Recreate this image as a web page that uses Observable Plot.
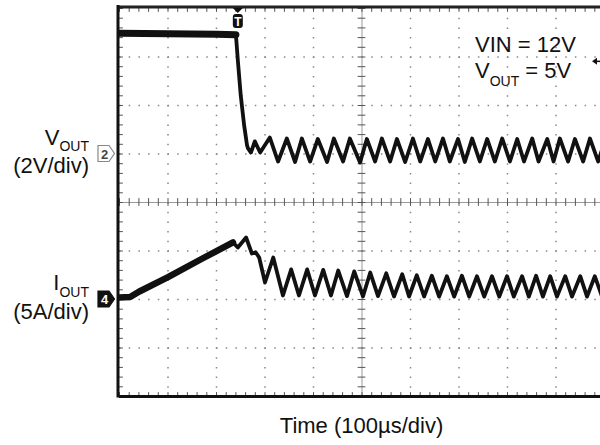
<!DOCTYPE html>
<html><head><meta charset="utf-8">
<script src="https://cdn.jsdelivr.net/npm/d3@7"></script>
<script src="https://cdn.jsdelivr.net/npm/@observablehq/plot@0.6"></script>
<style>
html,body{margin:0;padding:0;background:#fff;overflow:hidden;}
#chart svg{display:block;overflow:hidden;}
</style></head>
<body><div id="chart"></div>
<script>
// ---- Data (time in µs from left edge of the screen) ----
// Channel 2: VOUT (volts), 2 V/div, reference marker at +1 div
const voutTime = [0, 50, 100, 150, 200, 240, 244, 250, 257, 263, 265, 271, 279, 290, 310,
  327, 345, 362, 376, 393, 409, 428, 442, 461, 475,
  496, 510, 527, 541, 558, 572, 589, 605, 620, 636,
  651, 667, 681, 698, 712, 727, 743, 758, 774, 789,
  805, 820, 834, 851, 864, 882, 895, 908, 925, 939,
  956, 970, 987, 1001];
const voutVolts = [4.98, 4.97, 4.96, 4.95, 4.94, 4.92, 3.86, 2.41, 1.18, 0.35, 0.23, 0.06, 0.52, 0.06, 0.68,
  -0.31, 0.64, -0.33, 0.64, -0.31, 0.62, -0.33, 0.64, -0.31, 0.64,
  -0.35, 0.62, -0.31, 0.64, -0.31, 0.62, -0.33, 0.64, -0.31, 0.62,
  -0.31, 0.64, -0.31, 0.62, -0.33, 0.64, -0.31, 0.62, -0.31, 0.64,
  -0.31, 0.62, -0.31, 0.64, -0.31, 0.62, -0.31, 0.64, -0.31, 0.62,
  -0.31, 0.64, -0.31, 0.56];
// Channel 4: IOUT (amps), 5 A/div, reference marker at -2 div
const ioutTime = [0, 22, 40, 100, 170, 234, 244, 261, 273, 281, 288, 300,
  317, 337, 354, 370, 387, 403, 420, 436, 451, 469,
  484, 502, 517, 533, 550, 566, 583, 597, 613, 628,
  644, 659, 675, 690, 706, 721, 737, 752, 768, 783,
  799, 813, 830, 844, 859, 873, 888, 902, 919, 933,
  950, 964, 980, 995, 1010];
const ioutAmps = [0.21, 0.25, 0.8, 2.3, 4.2, 5.88, 5.36, 6.39, 4.74, 4.85, 4.33, 1.75,
  4.33, 0.41, 3.10, 0.41, 3.10, 0.41, 3.05, 0.41, 2.99, 0.35,
  2.90, 0.31, 2.78, 0.35, 2.70, 0.31, 2.60, 0.31, 2.50, 0.31,
  2.45, 0.30, 2.40, 0.30, 2.45, 0.30, 2.40, 0.30, 2.40, 0.30,
  2.40, 0.30, 2.40, 0.30, 2.45, 0.30, 2.40, 0.30, 2.40, 0.30,
  2.40, 0.30, 2.40, 0.30, 2.40];

const voutVoltsPerDiv = 2, voutRefDiv = 1;
const ioutAmpsPerDiv = 5, ioutRefDiv = -2;
const noisyEnd = 242;           // µs: end of the noisy (thick) part of the traces
const triggerTime = 245;        // µs
const triggerLevelDiv = 2.9;
const channelLabels = [["V", "OUT", "(2V/div)"], ["I", "OUT", "(5A/div)"]];
const channelNumbers = ["2", "4"];
const noteLines = [["VIN = 12V"], ["V", "OUT", " = 5V"]];
const noteTime = 734, noteDivs = [3.09, 2.56];
const xLabel = "Time (100µs/div)";

const vout = voutTime.map((t, i) => ({t, div: voutRefDiv + voutVolts[i] / voutVoltsPerDiv}));
const iout = ioutTime.map((t, i) => ({t, div: ioutRefDiv + ioutAmps[i] / ioutAmpsPerDiv}));

const minorT = d3.range(0, 992, 20);
const minorDiv = d3.range(-4, 4.001, 0.2);
const gridT = [100, 200, 300, 400, 600, 700, 800, 900];
const gridDiv = [-3, -2, -1, 1, 2, 3];

const font = "'Liberation Sans', Arial, Helvetica, sans-serif";
const dotted = {stroke: "#888", strokeWidth: 1.5, strokeDasharray: "1.5,8.2"};
const tick = {stroke: "#555", strokeWidth: 1};
const trace = {x: "t", y: "div", stroke: "#111", strokeLinejoin: "round", clip: true};

const plot = Plot.plot({
  width: 600, height: 445,
  marginLeft: 119, marginRight: 0, marginTop: 8, marginBottom: 49,
  x: {domain: [0, 991.75], axis: null},
  y: {domain: [-4, 4], axis: null},
  style: {background: "#fff", fontFamily: font},
  marks: [
    Plot.ruleX(gridT, dotted),
    Plot.ruleY(gridDiv, dotted),
    Plot.ruleX([500], {stroke: "#999", strokeWidth: 1}),
    Plot.ruleY([0], {stroke: "#999", strokeWidth: 1}),
    Plot.ruleX(minorT, {x: d => d, y1: -0.08, y2: 0.08, ...tick}),
    Plot.ruleY(minorDiv, {y: d => d, x1: 492, x2: 508, ...tick}),
    Plot.ruleX(minorT, {x: d => d, y1: 4, y2: 3.92, ...tick}),
    Plot.ruleX(minorT, {x: d => d, y1: -4, y2: -3.92, ...tick}),
    Plot.ruleY(minorDiv, {y: d => d, x1: 0, x2: 8, ...tick}),
    Plot.line(vout.filter(d => d.t <= noisyEnd), {...trace, strokeWidth: 7}),
    Plot.line(vout, {...trace, strokeWidth: 3.8}),
    Plot.line(iout.filter(d => d.t <= noisyEnd), {...trace, strokeWidth: 6.5}),
    Plot.line(iout, {...trace, strokeWidth: 3.8}),
    Plot.ruleY([4], {stroke: "#222", strokeWidth: 3, dy: -1.5}),
    Plot.ruleY([-4], {stroke: "#111", strokeWidth: 3}),
    Plot.ruleX([0], {stroke: "#111", strokeWidth: 3, dx: -1.5, insetTop: -3, insetBottom: -1.5})
  ]
});
document.getElementById("chart").appendChild(plot);

const X = v => plot.scale("x").apply(v);
const Y = v => plot.scale("y").apply(v);
const svg = d3.select(plot);
const g = svg.append("g").attr("font-family", font).attr("fill", "#111").attr("text-anchor", "start");

// channel labels at left
const labelX = X(0) - 30;
[[voutRefDiv, -8.5, 6, 19.5], [ioutRefDiv, -9.5, 7, 20]].forEach(([ref, off, subDy, off2], i) => {
  const [main, sub, scale] = channelLabels[i];
  const t = g.append("text").attr("x", labelX).attr("y", Y(ref) + off).attr("text-anchor", "end");
  t.append("tspan").attr("font-size", 22).text(main);
  t.append("tspan").attr("font-size", 14).attr("dy", subDy).text(sub);
  g.append("text").attr("x", labelX).attr("y", Y(ref) + off2).attr("text-anchor", "end")
    .attr("font-size", 22).text(scale);
});

// channel markers
[[voutRefDiv, "#fff", "#888", "#444"], [ioutRefDiv, "#111", "#111", "#fff"]].forEach(([ref, fill, stroke, tc], i) => {
  const y = Y(ref), x0 = X(0) - 21;
  g.append("path")
    .attr("d", `M${x0},${y - 8}H${x0 + 11}L${x0 + 16.5},${y}L${x0 + 11},${y + 8}H${x0}Z`)
    .attr("fill", fill).attr("stroke", stroke).attr("stroke-width", 1.2);
  g.append("text").attr("x", x0 + 6.5).attr("y", y + 5).attr("text-anchor", "middle")
    .attr("font-size", 13).attr("font-weight", "bold").attr("fill", tc).text(channelNumbers[i]);
});

// trigger marker
{
  const cx = X(triggerTime), top = Y(4);
  g.append("path").attr("d", `M${cx - 5},${top}L${cx + 5},${top}L${cx},${top + 5}Z`).attr("fill", "#111");
  g.append("rect").attr("x", cx - 5).attr("y", top + 6).attr("width", 10).attr("height", 14)
    .attr("rx", 3).attr("fill", "#111");
  g.append("text").attr("x", cx).attr("y", top + 17.5).attr("text-anchor", "middle")
    .attr("font-size", 12).attr("font-weight", "bold").attr("fill", "#fff").text("T");
  const ly = Y(triggerLevelDiv), rx = X(991.75);
  g.append("path").attr("d", `M${rx - 8},${ly}L${rx - 3},${ly - 3.5}L${rx - 3},${ly + 3.5}Z`).attr("fill", "#111");
  g.append("line").attr("x1", rx - 4).attr("x2", rx).attr("y1", ly).attr("y2", ly)
    .attr("stroke", "#111").attr("stroke-width", 1.5);
}

// annotation
{
  const nx = X(noteTime);
  g.append("text").attr("x", nx).attr("y", Y(noteDivs[0])).attr("font-size", 22).text(noteLines[0][0]);
  const t = g.append("text").attr("x", nx).attr("y", Y(noteDivs[1])).attr("font-size", 22);
  t.append("tspan").text(noteLines[1][0]);
  t.append("tspan").attr("font-size", 14).attr("dy", 8).text(noteLines[1][1]);
  t.append("tspan").attr("dy", -8).text(noteLines[1][2]);
}

// x label
g.append("text").attr("x", X(500)).attr("y", Y(-4) + 37).attr("text-anchor", "middle")
  .attr("font-size", 22).text(xLabel);
</script>
</body></html>
